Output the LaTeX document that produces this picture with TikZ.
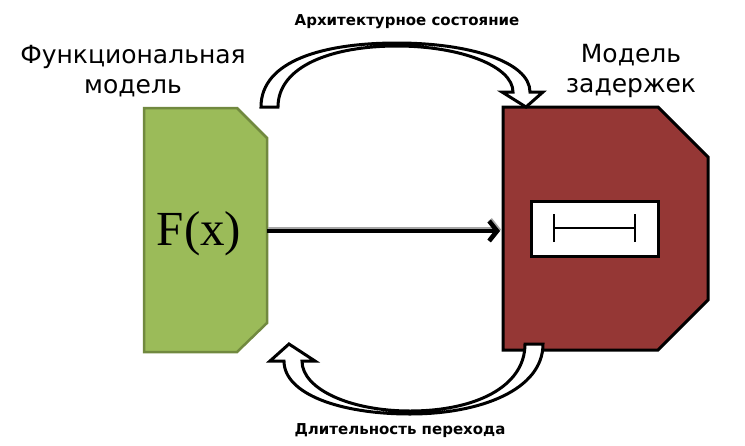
\documentclass[tikz,border=0pt]{standalone}
\usepackage{fontspec}
\newfontfamily\dejavu{DejaVu Sans}
\newfontfamily\fxserif{Liberation Serif}
\usetikzlibrary{arrows.meta}
\definecolor{fgreen}{HTML}{9BBB59}
\definecolor{fgreenedge}{HTML}{71893F}
\definecolor{dred}{HTML}{953735}
\tikzset{
  greenbox/.style={fill=fgreen, draw=fgreenedge, line width=2.5pt, line join=miter},
  redbox/.style={fill=dred, draw=black, line width=3pt, line join=miter},
  innerbox/.style={fill=white, draw=black, line width=3pt},
  beam/.style={draw=black, line width=2.5pt},
  blockarrow/.style={fill=white, draw=black, line width=3pt, line join=miter},
  biglabel/.style={font=\dejavu\fontsize{25}{30}\selectfont, align=center, inner sep=0pt},
  smalllabel/.style={font=\dejavu\bfseries\fontsize{15}{18}\selectfont, inner sep=0pt},
  mainarrow/.style={line width=4.5pt, -{Straight Barb[length=8pt,width=20pt]}},
  shadowarrow/.style={line width=4.5pt, draw=black!35, -{Straight Barb[length=8pt,width=20pt]}}
}
\begin{document}
\begin{tikzpicture}[x=1pt,y=-1pt]
\useasboundingbox (0,0) rectangle (745,445);

% functional model
\draw[greenbox] (144,108) -- (237,108) -- (267,138) -- (267,323) -- (237,352) -- (144,352) -- cycle;
\node[font=\fxserif\fontsize{49}{52}\selectfont, inner sep=0pt] (fx) at (199,234) {F(x)};
\coordinate (fout) at (267,231);

% delay model
\draw[redbox] (503,107) -- (658,107) -- (708,157) -- (708,300) -- (658,350) -- (503,350) -- cycle;
\draw[innerbox] (531,201) rectangle (658,256);
\coordinate (b1) at (554,228);
\coordinate (b2) at (635,228);
\draw[beam] (b1) -- (b2);
\draw[beam] ([yshift=-14pt]b1) -- ([yshift=14pt]b1);
\draw[beam] ([yshift=-14pt]b2) -- ([yshift=14pt]b2);
\coordinate (din) at (500,231);

% main arrow
\draw[shadowarrow] ([shift={(1,-1.5)}]fout) -- ([shift={(1,-1.5)}]din);
\draw[mainarrow] (fout) -- (din);

% top curved block arrow (architectural state)
\draw[blockarrow] (261,107) .. controls (261,60) and (325,43) .. (397,43)
  .. controls (470,43) and (530,62) .. (530,92) -- (543,92) -- (526,107) -- (502,92) -- (513,92)
  .. controls (513,66) and (460,46) .. (397,46)
  .. controls (332,46) and (278,66) .. (278,107) -- cycle;

% bottom curved block arrow (transition duration)
\draw[blockarrow] (543,344) .. controls (543,390) and (480,414) .. (410,414)
  .. controls (340,414) and (284,394) .. (284,361) -- (270,361) -- (289,344) -- (315,361) -- (302,361)
  .. controls (302,389) and (350,411) .. (410,411)
  .. controls (475,411) and (525,387) .. (525,344) -- cycle;

% labels
\node[biglabel] (funclbl) at (133,71) {Функциональная\\модель};
\node[biglabel] (delaylbl) at (631,71) {Модель\\задержек};
\node[smalllabel] (archlbl) at (407,22) {Архитектурное состояние};
\node[smalllabel] (durlbl) at (400,431) {Длительность перехода};
\end{tikzpicture}
\end{document}
